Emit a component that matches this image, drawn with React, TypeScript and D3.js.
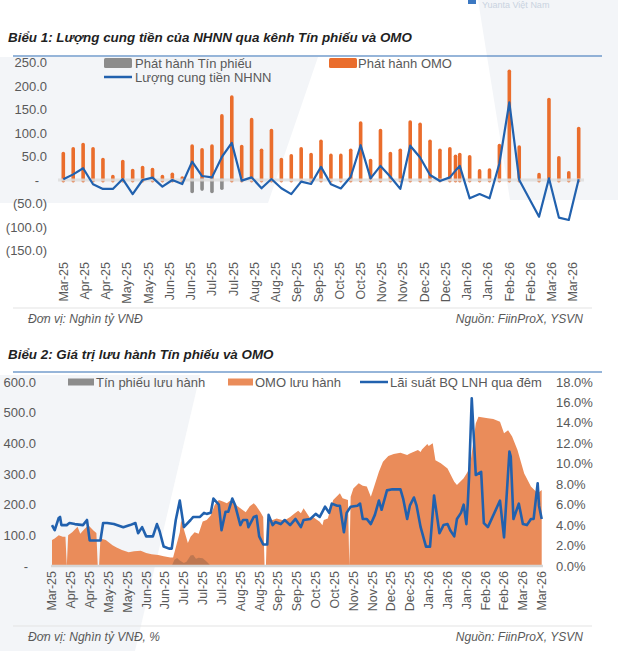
import React, { useRef, useEffect } from 'react';
import * as d3 from 'd3';

// ---------- Biểu 1: weekly issuance (Nghìn tỷ VNĐ) ----------
const weeks1: string[] = [
    '2025-03-24', '2025-03-31', '2025-04-07', '2025-04-14', '2025-04-21', '2025-04-28',
    '2025-05-05', '2025-05-12', '2025-05-19', '2025-05-26', '2025-06-02', '2025-06-09',
    '2025-06-16', '2025-06-23', '2025-06-30', '2025-07-07', '2025-07-14', '2025-07-21',
    '2025-07-28', '2025-08-04', '2025-08-11', '2025-08-18', '2025-08-25', '2025-09-01',
    '2025-09-08', '2025-09-15', '2025-09-22', '2025-09-29', '2025-10-06', '2025-10-13',
    '2025-10-20', '2025-10-27', '2025-11-03', '2025-11-10', '2025-11-17', '2025-11-24',
    '2025-12-01', '2025-12-08', '2025-12-15', '2025-12-22', '2025-12-26', '2025-12-29',
    '2026-01-05', '2026-01-12', '2026-01-19', '2026-01-26', '2026-02-02', '2026-02-09',
    '2026-02-23', '2026-03-02', '2026-03-09', '2026-03-16', '2026-03-23'
];
const omoIssued: number[] = [
    57, 67, 76, 67, 44, 8, 40, 21, 27, 23, 8, 13, 5, 73, 65, 73, 137, 177, 72, 129,
    64, 106, 44, 52, 67, 55, 83, 53, 53, 64, 122, 42, 106, 57, 64, 124, 119, 83, 64, 67,
    51, 55, 50, 20, 22, 74, 232, 71, 12, 172, 48, 16, 110
];
const billIssued: number[] = [
    0, 0, 0, 0, 0, 0, 0, 0, 0, 0, 0, 0, 0, -25, -20, -25, -18, 0, 0, 0,
    0, 0, 0, 0, 0, 0, 0, 0, 0, 0, 0, 0, 0, 0, 0, 0, 0, 0, 0, 0,
    0, 0, 0, 0, 0, 0, 0, 0, 0, 0, 0, 0, 0
];
const netSupply: number[] = [
    1.5, 12, 25, -9, -19, -19, 2, -30, 0, 5, -14, 0, -8.5, 39, 8.5, 5.6, 49, 79, -1.4, 5.6,
    -17.7, 2, -17.7, -30, -3.5, -8.5, 28, -9, -18, 7, 74, 3.5, 30, 7, -19, 73, 48, 10.6, -2, 5.6,
    20, 30, -39, -30, -39, 35, 165, 0, -78, 3.5, -80, -85, 1.5
];
const yTicks1 = [250, 200, 150, 100, 50, 0, -50, -100, -150];

// ---------- Biểu 2: daily outstanding, [days since start2, value] ----------
const start2 = '2025-03-27';
const omoOutstanding: [number, number][] = [
    [0, 85], [2, 90], [5, 100], [8, 95], [10, 95], [11, 0], [12, 100], [15, 110], [19, 128], [21, 105],
    [24, 120], [27, 133], [31, 115], [33, 108], [34, 0], [35, 0], [36, 90], [40, 85], [45, 68], [48, 60],
    [52, 52], [57, 45], [61, 48], [66, 50], [70, 42], [74, 38], [79, 36], [83, 32], [88, 28], [90, 28],
    [92, 60], [95, 110], [96, 150], [98, 120], [101, 75], [103, 95], [106, 110], [109, 105], [112, 145], [115, 150],
    [118, 165], [121, 200], [124, 215], [127, 210], [130, 205], [132, 212], [135, 205], [138, 195], [141, 185], [144, 175],
    [147, 195], [150, 205], [152, 195], [155, 175], [157, 160], [158, 0], [159, 0], [160, 155], [164, 150], [167, 155],
    [171, 150], [174, 152], [177, 160], [180, 170], [183, 180], [185, 172], [187, 188], [192, 155], [194, 160], [199, 144],
    [201, 133], [202, 150], [205, 155], [209, 215], [212, 228], [214, 237], [216, 221], [220, 215], [221, 0], [222, 226],
    [224, 253], [228, 270], [231, 262], [234, 259], [237, 226], [239, 253], [243, 307], [246, 340], [250, 359], [254, 365],
    [259, 369], [264, 362], [266, 367], [272, 378], [274, 372], [275, 380], [279, 398], [280, 391], [283, 400], [285, 345],
    [289, 335], [294, 318], [299, 275], [301, 264], [306, 286], [309, 307], [311, 335], [315, 465], [317, 487], [324, 482],
    [328, 479], [333, 470], [336, 433], [339, 443], [342, 422], [346, 378], [351, 302], [356, 259], [361, 237], [364, 248]
];
const billOutstanding: [number, number][] = [
    [89, 0], [91, 20], [93, 26], [95, 18], [98, 10], [100, 14], [103, 34], [105, 36], [107, 24],
    [109, 27], [112, 25], [114, 18], [116, 10], [118, 0]
];
const overnightRate: [number, number][] = [
    [0, 4.0], [2, 3.5], [5, 4.7], [6, 4.8], [7, 4.0], [11, 4.0], [13, 4.2], [17, 4.1], [23, 4.0], [26, 4.5],
    [28, 2.5], [36, 2.5], [38, 4.2], [41, 4.2], [46, 4.1], [53, 3.8], [58, 4.0], [62, 4.2], [64, 3.2], [67, 3.8],
    [70, 2.9], [75, 2.9], [78, 4.1], [80, 3.4], [83, 1.9], [87, 1.7], [89, 1.7], [92, 4.5], [95, 6.4], [98, 3.8],
    [103, 4.5], [105, 4.8], [110, 4.8], [113, 5.2], [115, 5.1], [118, 5.2], [120, 6.6], [124, 6.0], [126, 3.5], [129, 5.3],
    [131, 5.3], [134, 6.6], [136, 6.0], [140, 4.0], [142, 4.5], [145, 4.5], [146, 3.8], [150, 4.8], [152, 4.9], [154, 2.9],
    [157, 2.1], [160, 2.1], [161, 5.0], [164, 4.0], [166, 4.3], [170, 4.1], [173, 4.5], [177, 4.0], [181, 4.6], [185, 3.8],
    [187, 4.5], [192, 4.6], [196, 5.1], [199, 4.8], [203, 5.8], [206, 5.2], [208, 6.1], [212, 5.9], [214, 5.9], [217, 3.3],
    [219, 5.2], [222, 5.8], [227, 5.9], [229, 6.1], [231, 4.6], [234, 4.6], [237, 4.1], [240, 5.0], [243, 6.4], [245, 5.5],
    [249, 7.4], [253, 7.5], [259, 7.5], [261, 6.6], [264, 4.6], [266, 5.9], [269, 6.7], [271, 5.9], [274, 3.8], [278, 1.9],
    [281, 1.9], [284, 6.9], [288, 3.2], [291, 4.0], [294, 4.1], [296, 3.5], [299, 2.9], [301, 4.6], [304, 5.2], [306, 6.0],
    [308, 4.1], [309, 6.0], [310, 8.7], [312, 16.4], [315, 8.9], [319, 9.2], [321, 4.2], [324, 3.8], [333, 6.4], [336, 2.8],
    [340, 11.2], [341, 10.7], [343, 4.6], [347, 6.1], [350, 4.1], [353, 4.0], [356, 4.6], [358, 4.6], [361, 8.1], [362, 5.9],
    [364, 4.6]
];
const yTicks2L = [600, 500, 400, 300, 200, 100, 0];
const yTicks2R = [18, 16, 14, 12, 10, 8, 6, 4, 2, 0];

const FONT = '"Liberation Sans", Arial, sans-serif';
const GREY_TEXT = '#595959';
const ORANGE = '#EA6D2C';
const ORANGE_AREA = '#EA8C5A';
const BLUE = '#2161AE';

const App: React.FC = () => {
    const svgRef = useRef<SVGSVGElement | null>(null);

    useEffect(() => {
        const svg = d3.select(svgRef.current);
        svg.selectAll('*').remove();
        const parse = d3.timeParse('%Y-%m-%d');
        const fmtMonth = d3.timeFormat('%b-%y');
        const fmtNum = (v: number) => v === 0 ? '-' : v < 0 ? `(${d3.format('.1f')(-v)})` : d3.format('.1f')(v);

        // faint watermark shapes in the background
        const wm = svg.append('g').attr('fill', '#F3F5F8');
        wm.append('path').attr('d', 'M0,57 L318,57 L268,203 L0,203 Z');
        wm.append('path').attr('d', 'M478,0 L618,0 L618,200 L510,200 Z');
        wm.append('path').attr('d', 'M0,375 L200,375 L135,651 L0,651 Z');

        // header remnant top right
        svg.append('rect').attr('x', 468).attr('y', -4).attr('width', 8).attr('height', 8).attr('fill', '#3b78c2');
        svg.append('text').attr('x', 482).attr('y', 8).attr('font-family', FONT).attr('font-size', 9)
            .attr('fill', '#c9d3e0').text('Yuanta Việt Nam');

        const title = (txt: string, y: number) => {
            svg.append('text').attr('x', 8).attr('y', y).attr('font-family', FONT).attr('font-size', 13.4)
                .attr('font-weight', 'bold').attr('font-style', 'italic').attr('fill', '#1f1f1f').text(txt);
        };
        const footer = (y: number, left: string) => {
            svg.append('line').attr('x1', 13).attr('x2', 592).attr('y1', y - 11).attr('y2', y - 11)
                .attr('stroke', '#e3e3e3').attr('stroke-width', 1);
            svg.append('text').attr('x', 28).attr('y', y + 4).attr('font-family', FONT).attr('font-size', 12)
                .attr('font-style', 'italic').attr('fill', GREY_TEXT).text(left);
            svg.append('text').attr('x', 583).attr('y', y + 4).attr('text-anchor', 'end').attr('font-family', FONT)
                .attr('font-size', 12).attr('font-style', 'italic').attr('fill', GREY_TEXT).text('Nguồn: FiinProX, YSVN');
        };
        const rule = (y: number) => {
            svg.append('line').attr('x1', 13).attr('x2', 602).attr('y1', y).attr('y2', y)
                .attr('stroke', '#2E6DB4').attr('stroke-width', 1.1);
        };
        const label = (g: d3.Selection<SVGGElement, unknown, null, undefined>, x: number, y: number, txt: string, anchor = 'start') => {
            g.append('text').attr('x', x).attr('y', y).attr('dy', '0.35em').attr('text-anchor', anchor)
                .attr('font-family', FONT).attr('font-size', 13).attr('fill', GREY_TEXT).text(txt);
        };

        // =============== Biểu 1 ===============
        title('Biểu 1: Lượng cung tiền của NHNN qua kênh Tín phiếu và OMO', 42);
        rule(56);

        const dates1 = weeks1.map(d => parse(d) as Date);
        const x1 = d3.scaleTime()
            .domain([parse('2025-03-24') as Date, parse('2026-03-23') as Date])
            .range([63.3, 578.7]);
        const y1 = d3.scaleLinear().domain([-150, 250]).range([250.5, 62.5]);
        const g1 = svg.append('g');

        yTicks1.forEach(t => {
            g1.append('text').attr('x', 47).attr('y', y1(t)).attr('dy', '0.35em').attr('dx', t === 0 ? -8 : 0)
                .attr('text-anchor', 'end').attr('font-family', FONT).attr('font-size', 13)
                .attr('fill', GREY_TEXT).text(fmtNum(t));
        });

        const ticks1 = d3.range(0, 25).map(k => d3.timeDay.offset(x1.domain()[0], k * 15));
        ticks1.forEach(t => {
            g1.append('text').attr('transform', `translate(${x1(t)},262) rotate(-90)`).attr('dy', '0.35em')
                .attr('text-anchor', 'end').attr('font-family', FONT).attr('font-size', 12.5)
                .attr('fill', GREY_TEXT).text(fmtMonth(t));
        });

        const bw = 3.6;
        g1.selectAll('rect.omo').data(dates1).enter().append('rect').attr('class', 'omo')
            .attr('x', d => x1(d) - bw / 2)
            .attr('y', (d, i) => y1(omoIssued[i]) - 1.5)
            .attr('width', bw)
            .attr('height', (d, i) => y1(0) - y1(omoIssued[i]) + 4)
            .attr('rx', bw / 2)
            .attr('fill', ORANGE);
        g1.selectAll('rect.bill').data(dates1.filter((d, i) => billIssued[i] < 0)).enter().append('rect')
            .attr('class', 'bill')
            .attr('x', d => x1(d) - bw / 2)
            .attr('y', y1(0) - 2)
            .attr('width', bw)
            .attr('height', d => y1(billIssued[dates1.indexOf(d)]) - y1(0) + 3.5)
            .attr('rx', bw / 2)
            .attr('fill', '#8C8C8C');

        g1.append('line').attr('x1', 58).attr('x2', 584).attr('y1', y1(0)).attr('y2', y1(0))
            .attr('stroke', '#dedede').attr('stroke-width', 3).attr('opacity', 0.85);

        const line1 = d3.line<number>().x((v, i) => x1(dates1[i])).y(v => y1(v));
        g1.append('path').attr('d', line1(netSupply)).attr('fill', 'none').attr('stroke', BLUE)
            .attr('stroke-width', 2.2).attr('stroke-linejoin', 'round');

        // legend 1
        g1.append('rect').attr('x', 104).attr('y', 58).attr('width', 28).attr('height', 10).attr('rx', 1.5).attr('fill', '#8C8C8C');
        label(g1, 135, 63, 'Phát hành Tín  phiếu');
        g1.append('rect').attr('x', 329).attr('y', 58).attr('width', 28).attr('height', 10).attr('rx', 1.5).attr('fill', ORANGE);
        label(g1, 358, 63, 'Phát hành OMO');
        g1.append('line').attr('x1', 104).attr('x2', 132).attr('y1', 77).attr('y2', 77).attr('stroke', BLUE).attr('stroke-width', 2.5);
        label(g1, 135, 77, 'Lượng cung tiền NHNN');

        footer(319, 'Đơn vị: Nghìn tỷ VNĐ');

        // =============== Biểu 2 ===============
        title('Biểu 2: Giá trị lưu hành Tín phiếu và OMO', 359);
        rule(372);

        const day0 = parse(start2) as Date;
        const toDate = (d: number) => d3.timeDay.offset(day0, d);
        const x2 = d3.scaleTime().domain([day0, toDate(364)]).range([52, 541.7]);
        const y2 = d3.scaleLinear().domain([0, 600]).range([566, 382]);
        const y2r = d3.scaleLinear().domain([0, 18]).range([566, 382]);
        const g2 = svg.append('g');

        yTicks2L.forEach(t => {
            g2.append('text').attr('x', 36).attr('y', y2(t)).attr('dy', '0.35em').attr('dx', t === 0 ? -8 : 0)
                .attr('text-anchor', 'end').attr('font-family', FONT).attr('font-size', 13)
                .attr('fill', GREY_TEXT).text(fmtNum(t));
        });
        yTicks2R.forEach(t => {
            label(g2, 556, y2r(t), `${d3.format('.1f')(t)}%`);
        });

        const ticks2 = d3.range(0, 27).map(k => toDate(k * 14));
        ticks2.forEach(t => {
            g2.append('text').attr('transform', `translate(${x2(t)},571) rotate(-90)`).attr('dy', '0.35em')
                .attr('text-anchor', 'end').attr('font-family', FONT).attr('font-size', 12.5)
                .attr('fill', GREY_TEXT).text(fmtMonth(t));
        });

        const area2 = d3.area<[number, number]>()
            .x(d => x2(toDate(d[0])))
            .y0(y2(0))
            .y1(d => y2(d[1]));
        g2.append('path').attr('d', area2(omoOutstanding)).attr('fill', ORANGE_AREA);
        g2.append('path').attr('d', area2(billOutstanding)).attr('fill', '#5a4a40').attr('opacity', 0.3);

        g2.append('line').attr('x1', 51).attr('x2', 543).attr('y1', y2(0)).attr('y2', y2(0))
            .attr('stroke', '#d6d6d6').attr('stroke-width', 2.5);

        const line2 = d3.line<[number, number]>()
            .x(d => x2(toDate(d[0])))
            .y(d => y2r(d[1]));
        g2.append('path').attr('d', line2(overnightRate)).attr('fill', 'none').attr('stroke', BLUE)
            .attr('stroke-width', 2.6).attr('stroke-linejoin', 'round');

        // legend 2
        g2.append('rect').attr('x', 68).attr('y', 378.5).attr('width', 26).attr('height', 7).attr('fill', '#8C8C8C');
        label(g2, 96, 382, 'Tín  phiếu lưu hành');
        g2.append('rect').attr('x', 228).attr('y', 378.5).attr('width', 25).attr('height', 7).attr('fill', ORANGE_AREA);
        label(g2, 255, 382, 'OMO lưu hành');
        g2.append('line').attr('x1', 360).attr('x2', 388).attr('y1', 382).attr('y2', 382).attr('stroke', BLUE).attr('stroke-width', 2.5);
        label(g2, 390, 382, 'Lãi suất BQ LNH qua đêm');

        footer(637, 'Đơn vị: Nghìn tỷ VNĐ, %');
    }, []);

    return (
        <svg ref={svgRef} width={618} height={651}
            style={{ position: 'absolute', left: 0, top: 0, background: '#ffffff' }} />
    );
};

export default App;
